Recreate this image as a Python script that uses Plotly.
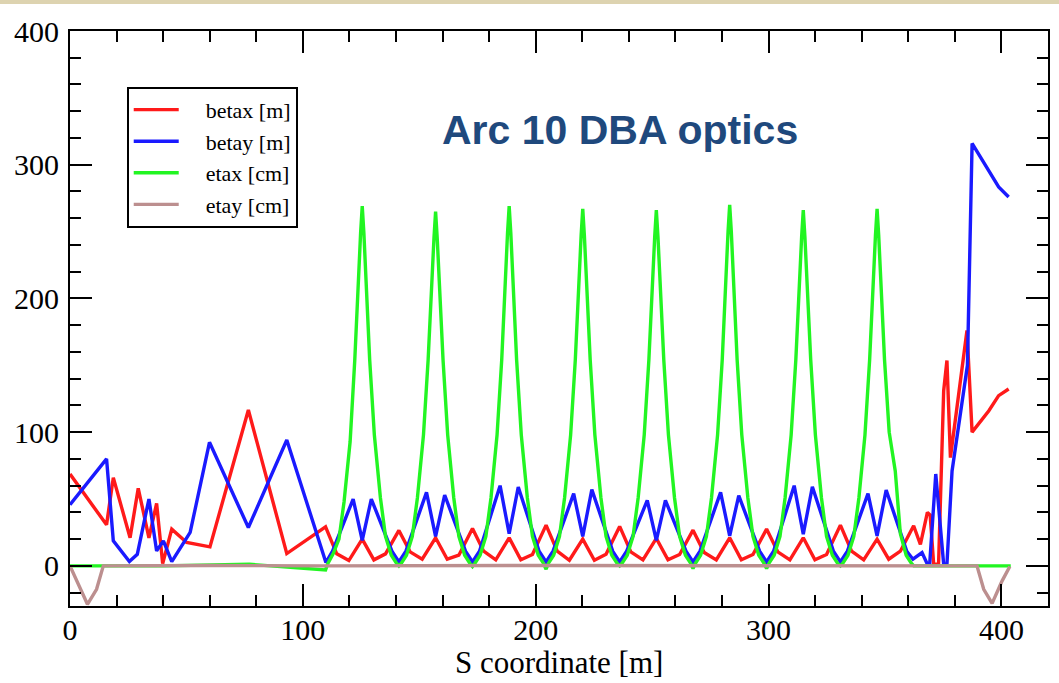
import plotly.graph_objects as go

# ---------------- data ----------------
s_betax = [0, 15.7, 18.6, 25.8, 29.3, 33.9, 37.2, 39.8, 43.7, 50.1, 60.1, 76.6, 93.1,
           109.75, 114.55, 119.75, 125.5, 130.5, 135.5,
           141.25, 146.05, 151.25, 157.0, 162.0, 167.0,
           172.85, 177.65, 182.85, 188.6, 193.6, 198.6,
           204.45, 209.25, 214.45, 220.2, 225.2, 230.2,
           236.05, 240.85, 246.05, 251.8, 256.8, 261.8,
           267.55, 272.35, 277.55, 283.3, 288.3, 293.3,
           299.15, 303.95, 309.15, 314.9, 319.9, 324.9,
           330.85, 335.65, 340.85, 346.6, 351.6, 356.6,
           362.3, 365.2, 368.2, 369.4, 370.9, 373.0, 375.2, 376.6, 378.1,
           385.2, 387.4, 394.6, 398.8, 403.1]
betax = [68.7, 30.7, 66, 21, 58, 21, 46.7, 1.7, 27.5, 17.5, 14.2, 116.6, 9.2,
         29.2, 9, 4, 20, 4.5, 9,
         26.5, 10.5, 5, 21, 5, 8,
         28, 11, 4.5, 21, 4.5, 8.5,
         30.5, 11, 4.2, 20, 4.2, 8.7,
         29.5, 10.5, 4.5, 20.5, 4.5, 8.5,
         26.7, 10, 4.5, 21, 4.5, 8.5,
         27.5, 10.5, 4.5, 21, 4.5, 8.5,
         30.5, 11, 4.5, 20, 5, 11,
         30, 16, 40, 38, 1.2, 1.2, 131, 153.6, 81,
         176, 100, 116, 127.3, 132.3]

s_betay = [0, 15.7, 18.6, 25.5, 28.9, 33.9, 37.2, 40.1, 43.7, 51.6, 59.9, 76.6, 93.1,
           109.9, 112.75, 121.6, 125.5, 129.4, 138.25,
           141.25, 144.25, 153.1, 157.0, 160.9, 169.85,
           172.85, 175.85, 184.7, 188.6, 192.5, 201.45,
           204.45, 207.45, 216.3, 220.2, 224.1, 233.05,
           236.05, 239.05, 247.9, 251.8, 255.7, 264.55,
           267.55, 270.55, 279.4, 283.3, 287.2, 296.15,
           299.15, 302.15, 311.0, 314.9, 318.8, 327.85,
           330.85, 333.85, 342.7, 346.6, 350.5, 359.35,
           362.0, 365.9, 368.0, 369.2, 371.8, 375.2, 376.6, 378.8, 385.4,
           387.4, 398.8, 403.1]
betay = [45.7, 80, 18.7, 3.2, 8.7, 50, 11.2, 18.7, 3.2, 25, 92.4, 28.7, 94.1,
         2.5, 11, 50, 19, 50, 11,
         3, 11, 55, 22, 53, 11,
         3, 11, 60, 24, 59, 11,
         3, 11, 54, 22, 57, 11,
         3, 11, 49, 19, 49, 11,
         3, 11, 55, 22.5, 52.5, 11,
         3, 11, 60, 23.7, 59.2, 11,
         3, 11, 54, 22.5, 56.7, 11,
         5, 10, 2, 1.5, 68.7, 1.2, 1.2, 71, 150,
         315.9, 283.4, 275.9]

s_etax = [0, 13, 40, 77,
          109.75, 110.8, 113.0, 115.5, 117.7, 120.3, 122.3, 124.8, 125.5, 126.2, 128.7, 130.7, 133.3, 135.5, 138.0, 140.2,
          141.25, 142.3, 144.5, 147.0, 149.2, 151.8, 153.8, 156.3, 157.0, 157.7, 160.2, 162.2, 164.8, 167.0, 169.5, 171.7,
          172.85, 173.9, 176.1, 178.6, 180.8, 183.4, 185.4, 187.9, 188.6, 189.3, 191.8, 193.8, 196.4, 198.6, 201.1, 203.3,
          204.45, 205.5, 207.7, 210.2, 212.4, 215.0, 217.0, 219.5, 220.2, 220.9, 223.4, 225.4, 228.0, 230.2, 232.7, 234.9,
          236.05, 237.1, 239.3, 241.8, 244.0, 246.6, 248.6, 251.1, 251.8, 252.5, 255.0, 257.0, 259.6, 261.8, 264.3, 266.5,
          267.55, 268.6, 270.8, 273.3, 275.5, 278.1, 280.1, 282.6, 283.3, 284.0, 286.5, 288.5, 291.1, 293.3, 295.8, 298.0,
          299.15, 300.2, 302.4, 304.9, 307.1, 309.7, 311.7, 314.2, 314.9, 315.6, 318.1, 320.1, 322.7, 324.9, 327.4, 329.6,
          330.85, 331.9, 334.1, 336.6, 338.8, 341.4, 343.4, 345.9, 346.6, 347.3, 349.8, 351.8, 354.4, 356.6, 359.1, 361.3,
          362.35, 404.0]
etax = [0, 0, 0, 1.2,
        -3, 2, 9, 20, 48, 93, 154, 249, 269, 249, 154, 98, 51, 22, 8, 2,
        0, 2, 8, 22, 51, 98, 154, 245, 265, 245, 154, 98, 51, 22, 8, 2,
        -0.5, 2, 8, 22, 51, 98, 154, 249, 269, 249, 154, 98, 51, 22, 8, 2,
        -2.5, 2, 8, 22, 51, 98, 154, 247, 267, 247, 154, 98, 51, 22, 8, 2,
        0, 2, 8, 22, 51, 98, 154, 246, 266, 246, 154, 98, 51, 22, 8, 2,
        -2, 2, 8, 22, 51, 98, 154, 250, 270, 250, 154, 98, 51, 22, 8, 2,
        -2, 2, 8, 22, 51, 98, 154, 246, 266, 246, 154, 98, 51, 22, 8, 2,
        0, 2, 8, 22, 51, 98, 154, 247, 267, 247, 154, 100, 71, 24, 8, 2,
        0, 0]

s_etay = [0, 5, 7.5, 11.4, 12.9, 14.3, 60, 110, 200, 300, 389.5, 392.4, 396, 400.3, 403.6]
etay = [0, -18.7, -28.7, -17.5, -8.7, 0, 0.3, 0, 0.3, 0, 0, -17.5, -28, -11.2, -0.5]

series = [
    ("betax [m]", s_betax, betax, "#ff1a1a"),
    ("betay [m]", s_betay, betay, "#1a1aff"),
    ("etax [cm]", s_etax, etax, "#22f522"),
    ("etay [cm]", s_etay, etay, "#bc8f8f"),
]

fig = go.Figure()
for name, xs, ys, col in series:
    fig.add_trace(go.Scatter(x=xs, y=ys, mode="lines",
                             name="\u00a0\u00a0\u00a0\u00a0" + name,
                             line=dict(color=col, width=3.4)))

serif = "Liberation Serif"
axis_common = dict(
    showline=True, linecolor="black", linewidth=2, mirror="allticks",
    ticks="inside", ticklen=22, tickwidth=2, tickcolor="black",
    showgrid=False, zeroline=False, automargin=False,
    tickfont=dict(family=serif, size=30, color="black"),
)
minor_common = dict(dtick=20, ticks="inside", ticklen=11, tickwidth=2,
                    tickcolor="black", showgrid=False)
fig.update_xaxes(range=[0, 420], dtick=100, tick0=0, minor=minor_common,
                 ticklabelstandoff=-4, **axis_common)
fig.update_yaxes(range=[-30, 400], dtick=100, tick0=0, minor=minor_common,
                 ticklabelstandoff=3, **axis_common)

fig.update_layout(
    width=1059, height=683,
    margin=dict(l=70, r=11, t=31, b=77, pad=0),
    paper_bgcolor="white", plot_bgcolor="white",
    showlegend=True,
    legend=dict(x=0.058, y=0.903, xanchor="left", yanchor="top",
                bgcolor="white", bordercolor="black", borderwidth=2,
                font=dict(family=serif, size=22, color="black"),
                itemwidth=45),
    annotations=[
        dict(text="<b>Arc 10 DBA optics</b>", xref="paper", yref="paper",
             x=0.5624, y=0.8278, xanchor="center", yanchor="middle",
             showarrow=False,
             font=dict(family="Liberation Sans", size=41, color="#1f497d")),
        dict(text="S coordinate [m]", xref="paper", yref="paper",
             x=0.5, y=-0.0974, xanchor="center", yanchor="middle",
             showarrow=False,
             font=dict(family=serif, size=31, color="black")),
    ],
    shapes=[dict(type="rect", xref="paper", yref="paper", x0=-0.08, x1=1.02,
                 y0=1.0468, y1=1.06, fillcolor="#ddd3b0", line=dict(width=0), layer="above")],
)

fig.write_html("out.html", config={"displayModeBar": False},
               post_script="document.body.style.margin='0';document.body.style.overflow='hidden';")
